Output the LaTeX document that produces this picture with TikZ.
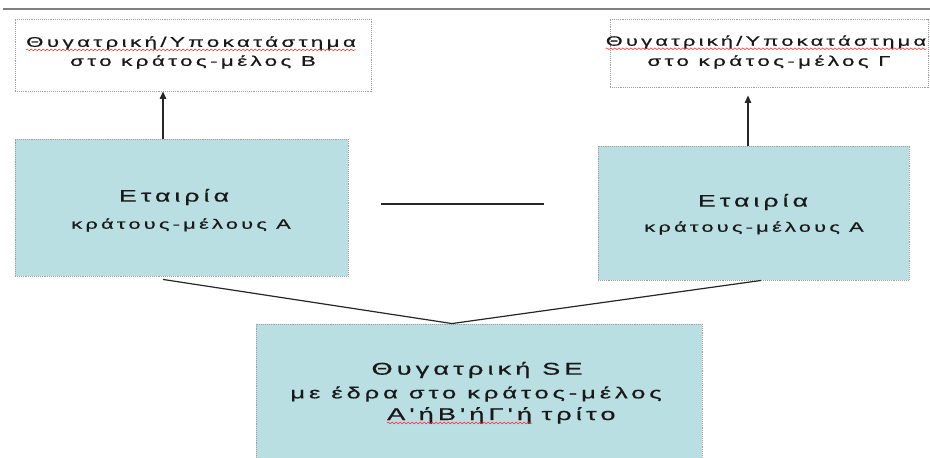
\documentclass[tikz,border=0pt]{standalone}
\usepackage{fontspec}
\usetikzlibrary{arrows.meta,decorations.pathmorphing}
\newfontfamily\grA[FakeStretch=1.6,FakeBold=0.6,LetterSpace=24]{Liberation Sans}
\definecolor{boxfill}{RGB}{185,223,227}
\definecolor{txtcol}{RGB}{25,25,25}
\tikzset{
  box/.style={draw=gray!75, densely dotted, line width=0.9pt, inner sep=0pt},
  tealbox/.style={box, fill=boxfill},
  txt/.style={inner sep=0pt, text=txtcol},
  small/.style={txt, font=\grA\fontsize{14}{16}\selectfont},
  smallr/.style={txt, font=\grA\fontsize{13.6}{16}\selectfont},
  mid/.style={txt, font=\grA\fontsize{13.6}{16}\selectfont},
  big/.style={txt, font=\grA\fontsize{16.7}{19}\selectfont},
  se/.style={txt, font=\grA\fontsize{17}{19}\selectfont},
  seb/.style={txt, font=\grA\fontsize{16}{19}\selectfont},
  conn/.style={draw=black!85, line width=1.2pt},
  arr/.style={conn, -{Triangle[length=7.5pt,width=6.5pt]}},
  wavy/.style={draw=red!85, line width=0.5pt, decorate, decoration={snake, amplitude=0.9pt, segment length=4pt}}
}
\begin{document}
\begin{tikzpicture}[x=1pt,y=1pt]
\useasboundingbox (0,0) rectangle (930,-458);
\clip (0,0) rectangle (930,-458);
% top rule
\draw[gray, line width=1.3pt] (3,-9) -- (930,-9);
% boxes
\node[box, minimum width=356pt, minimum height=72pt] (boxB) at (193,-55) {};
\node[box, minimum width=318pt, minimum height=68pt] (boxG) at (769,-53) {};
\node[tealbox, minimum width=333pt, minimum height=137pt] (boxA1) at (181.5,-207.5) {};
\node[tealbox, minimum width=311pt, minimum height=134pt] (boxA2) at (753.5,-213) {};
\node[tealbox, minimum width=446pt, minimum height=140pt] (boxSE) at (479,-394) {};
% texts
\node[small] (tB1) at (191,-43) {Θυγατρική/Υποκατάστημα};
\node[small] (tB2) at (193,-62) {στο κράτος-μέλος Β};
\node[smallr] (tG1) at (766,-42) {Θυγατρική/Υποκατάστημα};
\node[small] (tG2) at (769,-62) {στο κράτος-μέλος Γ};
\node[big] (tA1a) at (174,-197) {Εταιρία};
\node[mid] (tA1b) at (181,-225) {κράτους-μέλους Α};
\node[big] (tA2a) at (753,-202) {Εταιρία};
\node[mid] (tA2b) at (754,-228) {κράτους-μέλους Α};
\node[se] (tS1) at (477,-370) {Θυγατρική SE};
\node[seb] (tS2) at (476,-394) {με έδρα  στο κράτος-μέλος};
\node[se, anchor=base west] (tS3a) at (387,-420) {Α'ήΒ'ήΓ'ή};
\node[se, anchor=base west] (tS3b) at ([xshift=9pt]tS3a.base east) {τρίτο};
% spell-check underlines
\draw[wavy] ([yshift=-3pt]tB1.base west) -- ([yshift=-3pt]tB1.base east);
\draw[wavy] ([yshift=-3pt]tG1.base west) -- ([yshift=-3pt]tG1.base east);
\draw[wavy] ([yshift=-3pt]tS3a.base west) -- ([yshift=-3pt]tS3a.base east);
% connectors
\draw[arr] ([xshift=-18.5pt]boxA1.north) -- ([xshift=-18.5pt]boxA1.north |- boxB.south);
\draw[arr] ([xshift=-5.5pt]boxA2.north) -- ([xshift=-5.5pt,yshift=-8pt]boxA2.north |- boxG.south);
\coordinate (h1) at (381,-204);
\coordinate (h2) at (544,-204);
\draw[conn] (h1) -- (h2);
\coordinate (j) at ([xshift=-27pt]boxSE.north);
\draw[conn] ([xshift=-18.5pt,yshift=-3pt]boxA1.south) -- (j);
\draw[conn] ([xshift=7.5pt]boxA2.south) -- (j);
\end{tikzpicture}
\end{document}
